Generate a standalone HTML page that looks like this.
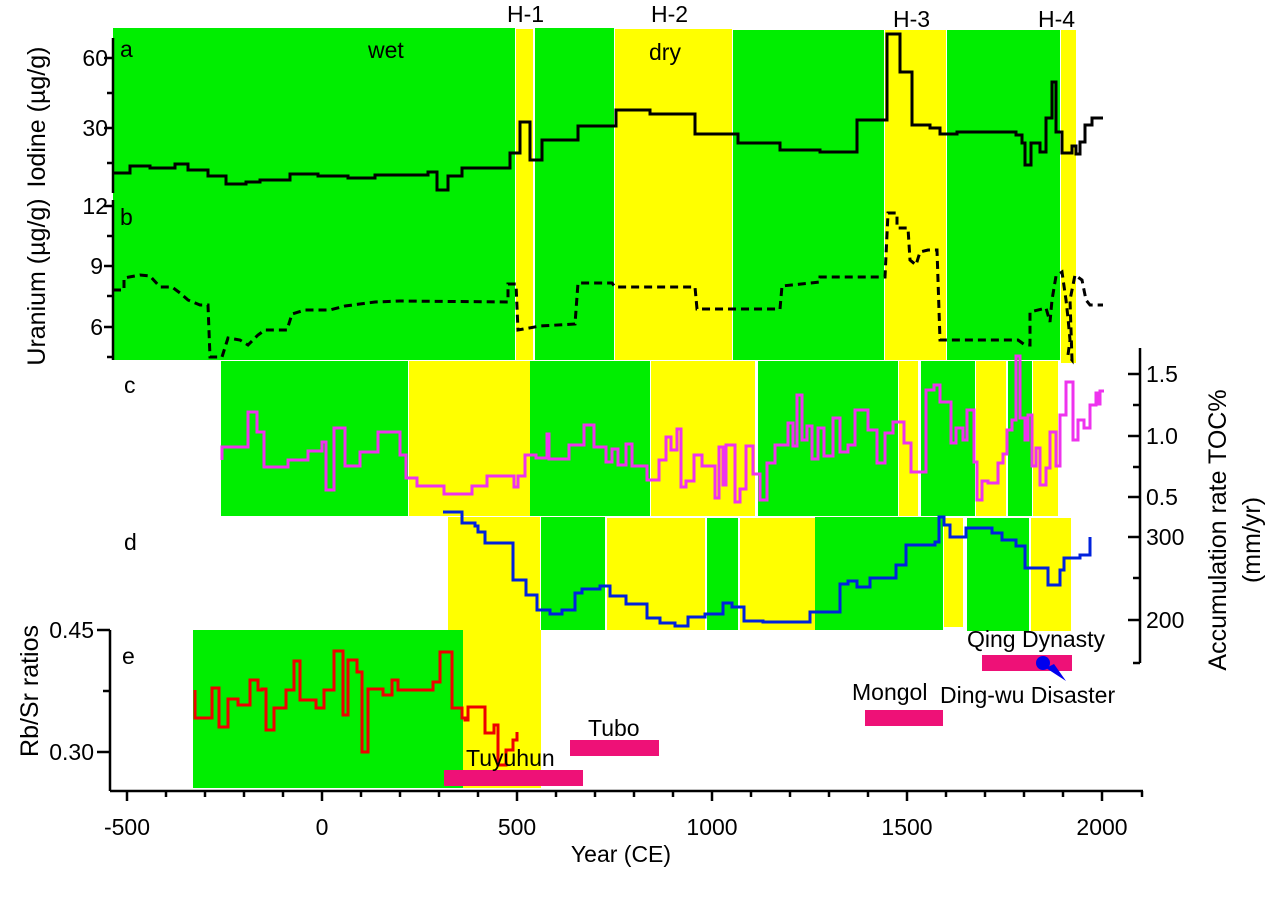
<!DOCTYPE html>
<html><head><meta charset="utf-8"><style>
html,body{margin:0;padding:0;background:#fff;}
svg{display:block;font-family:"Liberation Sans",Arial,sans-serif;}
</style></head><body>
<svg width="1269" height="906" viewBox="0 0 1269 906" xmlns="http://www.w3.org/2000/svg">
<rect width="1269" height="906" fill="#fff"/>
<g>
<rect x="113" y="28" width="402" height="332" fill="#00ee00"/>
<rect x="516" y="29" width="17" height="331" fill="#ffff00"/>
<rect x="535" y="28" width="79" height="332" fill="#00ee00"/>
<rect x="615" y="29" width="117" height="331" fill="#ffff00"/>
<rect x="733" y="30" width="151" height="330" fill="#00ee00"/>
<rect x="885" y="30" width="61" height="330" fill="#ffff00"/>
<rect x="947" y="30" width="113" height="330" fill="#00ee00"/>
<rect x="1061" y="30" width="15" height="333" fill="#ffff00"/>
</g>
<g>
<rect x="221" y="361" width="187" height="155" fill="#00ee00"/>
<rect x="409" y="361" width="121" height="155" fill="#ffff00"/>
<rect x="530" y="361" width="120" height="155" fill="#00ee00"/>
<rect x="651" y="361" width="104" height="155" fill="#ffff00"/>
<rect x="758" y="361" width="140" height="155" fill="#00ee00"/>
<rect x="899" y="361" width="19" height="155" fill="#ffff00"/>
<rect x="921" y="361" width="54" height="155" fill="#00ee00"/>
<rect x="976" y="361" width="30" height="155" fill="#ffff00"/>
<rect x="1008" y="361" width="24" height="155" fill="#00ee00"/>
<rect x="1033" y="361" width="25" height="155" fill="#ffff00"/>
</g>
<g>
<rect x="448" y="517" width="92" height="113" fill="#ffff00"/>
<rect x="541" y="517" width="64" height="113" fill="#00ee00"/>
<rect x="607" y="518" width="98" height="112" fill="#ffff00"/>
<rect x="707" y="518" width="31" height="112" fill="#00ee00"/>
<rect x="740" y="518" width="75" height="112" fill="#ffff00"/>
<rect x="815" y="517" width="128" height="113" fill="#00ee00"/>
<rect x="944" y="518" width="19" height="109" fill="#ffff00"/>
<rect x="967" y="518" width="62" height="113" fill="#00ee00"/>
<rect x="1031" y="518" width="40" height="113" fill="#ffff00"/>
</g>
<rect x="193" y="630" width="270" height="158" fill="#00ee00"/>
<rect x="463" y="630" width="78" height="158" fill="#ffff00"/>

<polyline fill="none" stroke="#000" stroke-width="3" points="113,173 130,173 130,166 150,166 150,168 175,168 175,164 188,164 188,170 208,170 208,176 226,176 226,184 246,184 246,182 260,182 260,180 290,180 290,174 318,174 318,176 348,176 348,178 375,178 375,175 428,175 428,172 437,172 437,190 448,190 448,176 462,176 462,168 510,168 510,153 520,153 520,122 530,122 530,160 542,160 542,140 578,140 578,126 616,126 616,110 650,110 650,114 695,114 695,134 738,134 738,143 780,143 780,150 820,150 820,152 857,152 857,120 887,120 887,34 900,34 900,72 912,72 912,125 930,125 930,128 940,128 940,134 957,134 957,132 1016,132 1016,135 1022,135 1022,143 1025,143 1025,165 1031,165 1031,143 1040,143 1040,152 1046,152 1046,118 1052,118 1052,82 1056,82 1056,132 1062,132 1062,153 1072,153 1072,146 1076,146 1076,154 1080,154 1080,142 1085,142 1085,125 1092,125 1092,118 1103,118"/>
<polyline fill="none" stroke="#000" stroke-width="3" stroke-dasharray="8,5" points="113,290 124,290 124,278 140,275 150,276 160,287 172,287 180,293 188,300 200,305 208,305 210,357 222,357 228,338 240,340 248,345 258,335 265,330 287,330 292,314 305,310 330,310 345,306 375,302 400,301 508,302 508,284 516,284 518,330 540,326 575,324 578,283 612,283 615,287 695,287 697,309 780,309 782,286 820,282 820,277 885,277 888,213 897,213 897,228 908,228 910,260 916,265 920,252 928,250 937,250 940,340 1018,340 1025,345 1030,345 1030,312 1046,308 1050,322 1052,300 1056,276 1062,272 1066,300 1068,318 1070,340 1068,355 1072,360 1070,300 1075,275 1082,280 1086,300 1090,305 1103,305"/>
<polyline fill="none" stroke="#ee33ee" stroke-width="3" points="222,460 222,447 248,447 248,412 257,412 257,432 264,432 264,467 288,467 288,460 308,460 308,451 322,451 322,442 326,442 326,490 334,490 334,428 345,428 345,466 360,466 360,452 378,452 378,432 400,432 400,455 406,455 406,478 417,478 417,486 444,486 444,494 472,494 472,486 487,486 487,476 514,476 514,487 518,487 518,476 525,476 525,455 536,455 536,458 547,458 547,434 549,434 549,459 569,459 569,445 584,445 584,425 594,425 594,447 606,447 606,462 612,462 612,449 618,449 618,465 626,465 626,444 632,444 632,466 647,466 647,480 659,480 659,460 666,460 666,437 671,437 671,450 677,450 677,429 681,429 681,487 686,487 686,481 694,481 694,455 702,455 702,466 715,466 715,498 719,498 719,447 723,447 723,485 726,485 726,445 735,445 735,502 740,502 740,489 746,489 746,446 753,446 753,474 760,474 760,500 767,500 767,463 775,463 775,445 788,445 788,423 793,423 793,446 797,446 797,395 802,395 802,440 807,440 807,426 812,426 812,459 818,459 818,428 824,428 824,456 833,456 833,418 840,418 840,452 848,452 848,445 855,445 855,410 868,410 868,430 877,430 877,463 885,463 885,433 893,433 893,422 904,422 904,443 911,443 911,472 926,472 926,390 934,390 934,385 940,385 940,402 951,402 951,443 956,443 956,428 963,428 963,440 967,440 967,410 974,410 974,462 977,462 977,500 982,500 982,481 988,481 988,483 998,483 998,463 1003,463 1003,454 1007,454 1007,430 1012,430 1012,420 1016,420 1016,356 1020,356 1020,418 1025,418 1025,440 1028,440 1028,415 1032,415 1032,466 1036,466 1036,448 1040,448 1040,485 1046,485 1046,468 1050,468 1050,432 1056,432 1056,466 1060,466 1060,415 1066,415 1066,382 1073,382 1073,440 1078,440 1078,420 1084,420 1084,428 1090,428 1090,405 1096,405 1096,393 1098,393 1098,404 1100,404 1100,391 1104,391"/>
<polyline fill="none" stroke="#0022dd" stroke-width="3" points="443,512 462,512 462,523 475,523 475,526 478,526 478,532 485,532 485,543 513,543 513,580 526,580 526,595 537,595 537,610 550,610 550,614 562,614 562,610 575,610 575,593 582,593 582,589 600,589 600,586 610,586 610,596 626,596 626,604 647,604 647,618 660,618 660,623 675,623 675,626 688,626 688,617 705,617 705,614 723,614 723,603 732,603 732,607 744,607 744,621 763,621 763,622 810,622 810,612 840,612 840,584 848,584 848,581 857,581 857,587 870,587 870,578 896,578 896,565 906,565 906,545 935,545 935,542 939,542 939,517 944,517 944,525 950,525 950,537 966,537 966,528 992,528 992,533 1002,533 1002,540 1016,540 1016,546 1025,546 1025,568 1048,568 1048,585 1060,585 1060,570 1064,570 1064,558 1080,558 1080,555 1090,555 1090,537"/>
<polyline fill="none" stroke="#ee0000" stroke-width="3" points="195,690 195,718 212,718 212,688 219,688 219,727 228,727 228,699 238,699 238,705 250,705 250,680 258,680 258,690 262,690 262,689 266,689 266,730 274,730 274,708 286,708 286,690 294,690 294,661 300,661 300,700 316,700 316,708 324,708 324,690 334,690 334,651 343,651 343,715 348,715 348,660 357,660 357,672 362,672 362,752 368,752 368,689 383,689 383,695 392,695 392,680 398,680 398,690 433,690 433,682 440,682 440,652 452,652 452,708 462,708 462,718 465,718 465,720 468,720 468,707 485,707 485,733 494,733 494,725 498,725 498,765 506,765 506,750 513,750 513,740 517,740 517,732"/>

<rect x="444" y="770" width="139" height="16" fill="#ee1177"/>
<rect x="570" y="740" width="89" height="16" fill="#ee1177"/>
<rect x="865" y="710" width="78" height="16" fill="#ee1177"/>
<rect x="982" y="655" width="90" height="16" fill="#ee1177"/>
<circle cx="1043" cy="663" r="7" fill="#0000ee"/>
<polygon points="1046,668 1054,664 1066,681" fill="#0000ee"/>

<g stroke="#000" stroke-width="2.5" fill="none">
<line x1="113" y1="38" x2="113" y2="193"/>
<line x1="113" y1="200" x2="113" y2="360"/>
<line x1="104" y1="58" x2="113" y2="58"/><line x1="107" y1="93" x2="113" y2="93"/>
<line x1="104" y1="128" x2="113" y2="128"/><line x1="107" y1="163" x2="113" y2="163"/>
<line x1="104" y1="206" x2="113" y2="206"/><line x1="107" y1="236" x2="113" y2="236"/>
<line x1="104" y1="266" x2="113" y2="266"/><line x1="107" y1="296" x2="113" y2="296"/>
<line x1="104" y1="327" x2="113" y2="327"/><line x1="107" y1="357" x2="113" y2="357"/>
<line x1="110" y1="630" x2="110" y2="791"/>
<line x1="97" y1="630" x2="110" y2="630"/><line x1="103" y1="691" x2="110" y2="691"/>
<line x1="97" y1="752" x2="110" y2="752"/>
<line x1="110" y1="791" x2="1143" y2="791"/>
<line x1="1140" y1="348" x2="1140" y2="663"/>
<line x1="1140" y1="663" x2="1133" y2="663"/>
<line x1="1128" y1="374" x2="1140" y2="374"/><line x1="1133" y1="405" x2="1140" y2="405"/>
<line x1="1128" y1="436" x2="1140" y2="436"/><line x1="1133" y1="467" x2="1140" y2="467"/>
<line x1="1128" y1="497" x2="1140" y2="497"/>
<line x1="1128" y1="537" x2="1140" y2="537"/><line x1="1133" y1="578" x2="1140" y2="578"/>
<line x1="1128" y1="620" x2="1140" y2="620"/>
</g>
<g stroke="#000" stroke-width="2.5">
<line x1="127" y1="791" x2="127" y2="801"/><line x1="166" y1="791" x2="166" y2="797"/><line x1="205" y1="791" x2="205" y2="797"/><line x1="244" y1="791" x2="244" y2="797"/><line x1="283" y1="791" x2="283" y2="797"/>
<line x1="322" y1="791" x2="322" y2="801"/><line x1="361" y1="791" x2="361" y2="797"/><line x1="400" y1="791" x2="400" y2="797"/><line x1="439" y1="791" x2="439" y2="797"/><line x1="478" y1="791" x2="478" y2="797"/>
<line x1="517" y1="791" x2="517" y2="801"/><line x1="556" y1="791" x2="556" y2="797"/><line x1="595" y1="791" x2="595" y2="797"/><line x1="634" y1="791" x2="634" y2="797"/><line x1="673" y1="791" x2="673" y2="797"/>
<line x1="712" y1="791" x2="712" y2="801"/><line x1="751" y1="791" x2="751" y2="797"/><line x1="790" y1="791" x2="790" y2="797"/><line x1="829" y1="791" x2="829" y2="797"/><line x1="868" y1="791" x2="868" y2="797"/>
<line x1="907" y1="791" x2="907" y2="801"/><line x1="946" y1="791" x2="946" y2="797"/><line x1="985" y1="791" x2="985" y2="797"/><line x1="1024" y1="791" x2="1024" y2="797"/><line x1="1063" y1="791" x2="1063" y2="797"/>
<line x1="1102" y1="791" x2="1102" y2="801"/><line x1="1142" y1="791" x2="1142" y2="797"/>
</g>

<g font-size="23" fill="#000">
<text x="108" y="66" text-anchor="end">60</text>
<text x="108" y="136" text-anchor="end">30</text>
<text x="108" y="214" text-anchor="end">12</text>
<text x="103" y="274" text-anchor="end">9</text>
<text x="103" y="335" text-anchor="end">6</text>
<text x="94" y="638" text-anchor="end">0.45</text>
<text x="94" y="760" text-anchor="end">0.30</text>
<text x="1146" y="382">1.5</text>
<text x="1146" y="444">1.0</text>
<text x="1146" y="505">0.5</text>
<text x="1146" y="545">300</text>
<text x="1146" y="628">200</text>
<text x="127" y="835" text-anchor="middle">-500</text>
<text x="322" y="835" text-anchor="middle">0</text>
<text x="517" y="835" text-anchor="middle">500</text>
<text x="712" y="835" text-anchor="middle">1000</text>
<text x="907" y="835" text-anchor="middle">1500</text>
<text x="1102" y="835" text-anchor="middle">2000</text>
<text x="621" y="862" text-anchor="middle">Year (CE)</text>
<text x="120" y="57">a</text>
<text x="120" y="225">b</text>
<text x="124" y="393">c</text>
<text x="124" y="550">d</text>
<text x="122" y="664">e</text>
<text x="368" y="58">wet</text>
<text x="649" y="60">dry</text>
<text x="507" y="22">H-1</text>
<text x="651" y="22">H-2</text>
<text x="893" y="27">H-3</text>
<text x="1038" y="27">H-4</text>
<text x="466" y="766">Tuyuhun</text>
<text x="588" y="736">Tubo</text>
<text x="852" y="700">Mongol</text>
<text x="967" y="647">Qing Dynasty</text>
<text x="940" y="703">Ding-wu Disaster</text>
</g>
<g font-size="25" fill="#000" text-anchor="middle">
<text transform="translate(45,117) rotate(-90)">Iodine (µg/g)</text>
<text transform="translate(45,282) rotate(-90)">Uranium (µg/g)</text>
<text transform="translate(38,691) rotate(-90)">Rb/Sr ratios</text>
<text transform="translate(1226,530) rotate(-90)">Accumulation rate  TOC%</text>
<text transform="translate(1260,540) rotate(-90)">(mm/yr)</text>
</g>
</svg>
</body></html>
